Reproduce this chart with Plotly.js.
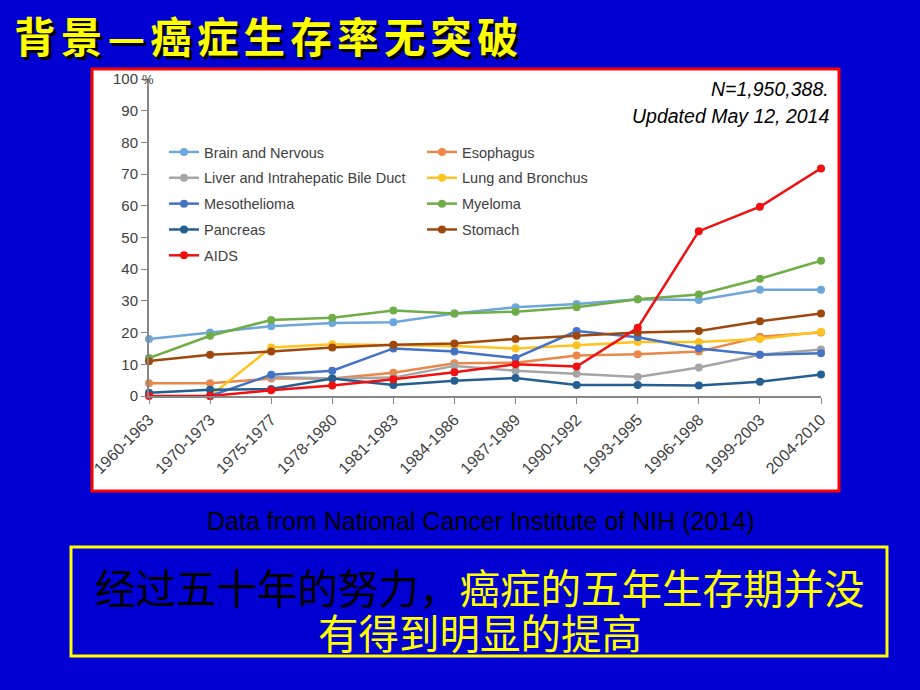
<!DOCTYPE html>
<html><head><meta charset="utf-8">
<script src="https://cdn.plot.ly/plotly-3.0.1.min.js"></script>
<style>html,body{margin:0;padding:0;background:#0000D2;}#chart{width:920px;height:690px;}</style>
</head><body><div id="chart"></div>
<script>
const periods = ["1960-1963","1970-1973","1975-1977","1978-1980","1981-1983","1984-1986","1987-1989","1990-1992","1993-1995","1996-1998","1999-2003","2004-2010"];
const brain      = [18, 20, 22, 23, 23.3, 26, 28, 29, 30.5, 30.3, 33.5, 33.5];
const esophagus  = [4, 4, 5.5, 5.5, 7.3, 10.3, 10.5, 12.8, 13.2, 14, 18.7, 20];
const liver      = [null, null, 6, 5.5, 5.8, 9.5, 8, 7, 6, 9, 13, 14.7];
const lung       = [null, 0, 15.3, 16.3, 16, 15.8, 15, 16, 17, 17, 18, 20.3];
const meso       = [null, 0, 6.7, 8, 15, 14, 12, 20.5, 18.5, 15, 13, 13.5];
const myeloma    = [12, 19, 24, 24.7, 27, 26, 26.6, 28, 30.5, 32, 37, 42.7];
const pancreas   = [1, 2, 2.2, 5.5, 3.5, 4.8, 5.7, 3.5, 3.5, 3.3, 4.5, 6.8];
const stomach    = [11, 13, 14, 15.3, 16.2, 16.6, 18, 19, 20, 20.5, 23.6, 26];
const aids       = [0, 0, 1.8, 3.3, 5.3, 7.5, 10, 9.3, 21.5, 52, 59.7, 71.8];

const series = [
  {name:"Brain and Nervous", y:brain, color:"#6CA6DA", legend:"legend"},
  {name:"Esophagus", y:esophagus, color:"#E9884A", legend:"legend2"},
  {name:"Liver and Intrahepatic Bile Duct", y:liver, color:"#A5A5A5", legend:"legend"},
  {name:"Lung and Bronchus", y:lung, color:"#FFC321", legend:"legend2"},
  {name:"Mesothelioma", y:meso, color:"#4472C4", legend:"legend"},
  {name:"Myeloma", y:myeloma, color:"#70AD47", legend:"legend2"},
  {name:"Pancreas", y:pancreas, color:"#255E91", legend:"legend"},
  {name:"Stomach", y:stomach, color:"#9E480E", legend:"legend2"},
  {name:"AIDS", y:aids, color:"#F01010", legend:"legend"}
];

const traces = series.map((s,i)=>({
  type:"scatter", mode:"lines+markers", name:s.name, x:periods, y:s.y,
  line:{color:s.color, width:2.5}, marker:{color:s.color, size:8},
  legend:s.legend, legendgroup:"g"+i, cliponaxis:false, connectgaps:false
}));

// pixel -> paper helpers (plot area: x 149..821, y 79..396)
const px = v => (v-149)/672;
const py = v => (396-v)/317;

const titleTxt = "背景—癌症生存率无突破".split("").join("\u200A\u200A");
const cjk = "Noto Sans CJK SC, sans-serif";
const lat = "Liberation Sans, Arial, sans-serif";

const layout = {
  width:920, height:690,
  paper_bgcolor:"#0000D2", plot_bgcolor:"#FFFFFF",
  margin:{l:149, r:99, t:79, b:294},
  showlegend:true,
  xaxis:{type:"category", range:[0,11], showgrid:false, zeroline:false,
    showline:true, linecolor:"#868686", linewidth:2, ticks:"outside", ticklen:6, tickcolor:"#868686",
    tickangle:-45, tickfont:{family:lat, size:16, color:"#404040"}},
  yaxis:{range:[0,100], tickvals:[0,10,20,30,40,50,60,70,80,90,100], showgrid:false, zeroline:false,
    showline:true, linecolor:"#868686", linewidth:2, ticks:"outside", ticklen:6, tickcolor:"#868686",
    tickfont:{family:lat, size:15, color:"#404040"}},
  legend:{x:px(164), y:py(136), xanchor:"left", yanchor:"top", bgcolor:"rgba(0,0,0,0)",
    font:{family:lat, size:14.5, color:"#404040"}, traceorder:"grouped", tracegroupgap:4},
  legend2:{x:px(422), y:py(136), xanchor:"left", yanchor:"top", bgcolor:"rgba(0,0,0,0)",
    font:{family:lat, size:14.5, color:"#404040"}, traceorder:"grouped", tracegroupgap:4},
  shapes:[
    {type:"rect", xref:"paper", yref:"paper", x0:px(92), x1:px(839), y0:py(69), y1:py(491),
     fillcolor:"#FFFFFF", line:{color:"#FF0000", width:3}, layer:"below"},
    {type:"rect", xref:"paper", yref:"paper", x0:px(71), x1:px(887), y0:py(547), y1:py(656),
     fillcolor:"rgba(0,0,0,0)", line:{color:"#FFFF00", width:3}, layer:"above"}
  ],
  annotations:[
    {xref:"paper", yref:"paper", x:px(15), y:py(38), xanchor:"left", yanchor:"middle", showarrow:false,
     text:"<b>"+titleTxt+"</b>", font:{family:cjk, size:41.5, color:"#000000"}},
    {xref:"paper", yref:"paper", x:px(12), y:py(35), xanchor:"left", yanchor:"middle", showarrow:false,
     text:"<b>"+titleTxt+"</b>", font:{family:cjk, size:41.5, color:"#FFFF00"}},
    {xref:"paper", yref:"paper", x:px(140), y:py(79), xanchor:"left", yanchor:"middle", showarrow:false,
     text:"%", font:{family:lat, size:13, color:"#404040"}},
    {xref:"paper", yref:"paper", x:px(831), y:py(89), xanchor:"right", yanchor:"middle", showarrow:false,
     text:"<i>N=1,950,388.</i>", font:{family:lat, size:19.5, color:"#000000"}},
    {xref:"paper", yref:"paper", x:px(831), y:py(116), xanchor:"right", yanchor:"middle", showarrow:false,
     text:"<i>Updated May 12, 2014</i>", font:{family:lat, size:19.5, color:"#000000"}},
    {xref:"paper", yref:"paper", x:px(480), y:py(521), xanchor:"center", yanchor:"middle", showarrow:false,
     text:"Data from National Cancer Institute of NIH (2014)", font:{family:lat, size:25, color:"#000000"}},
    {xref:"paper", yref:"paper", x:px(480), y:py(586), xanchor:"center", yanchor:"middle", showarrow:false,
     text:"经过五十年的努力，<span style=\"color:#FFFF00\">癌症的五年生存期并没</span>", font:{family:cjk, size:40.5, color:"#000000"}},
    {xref:"paper", yref:"paper", x:px(480), y:py(631), xanchor:"center", yanchor:"middle", showarrow:false,
     text:"有得到明显的提高", font:{family:cjk, size:40.5, color:"#FFFF00"}}
  ]
};

Plotly.newPlot("chart", traces, layout, {displayModeBar:false, staticPlot:true});
</script>
</body></html>
